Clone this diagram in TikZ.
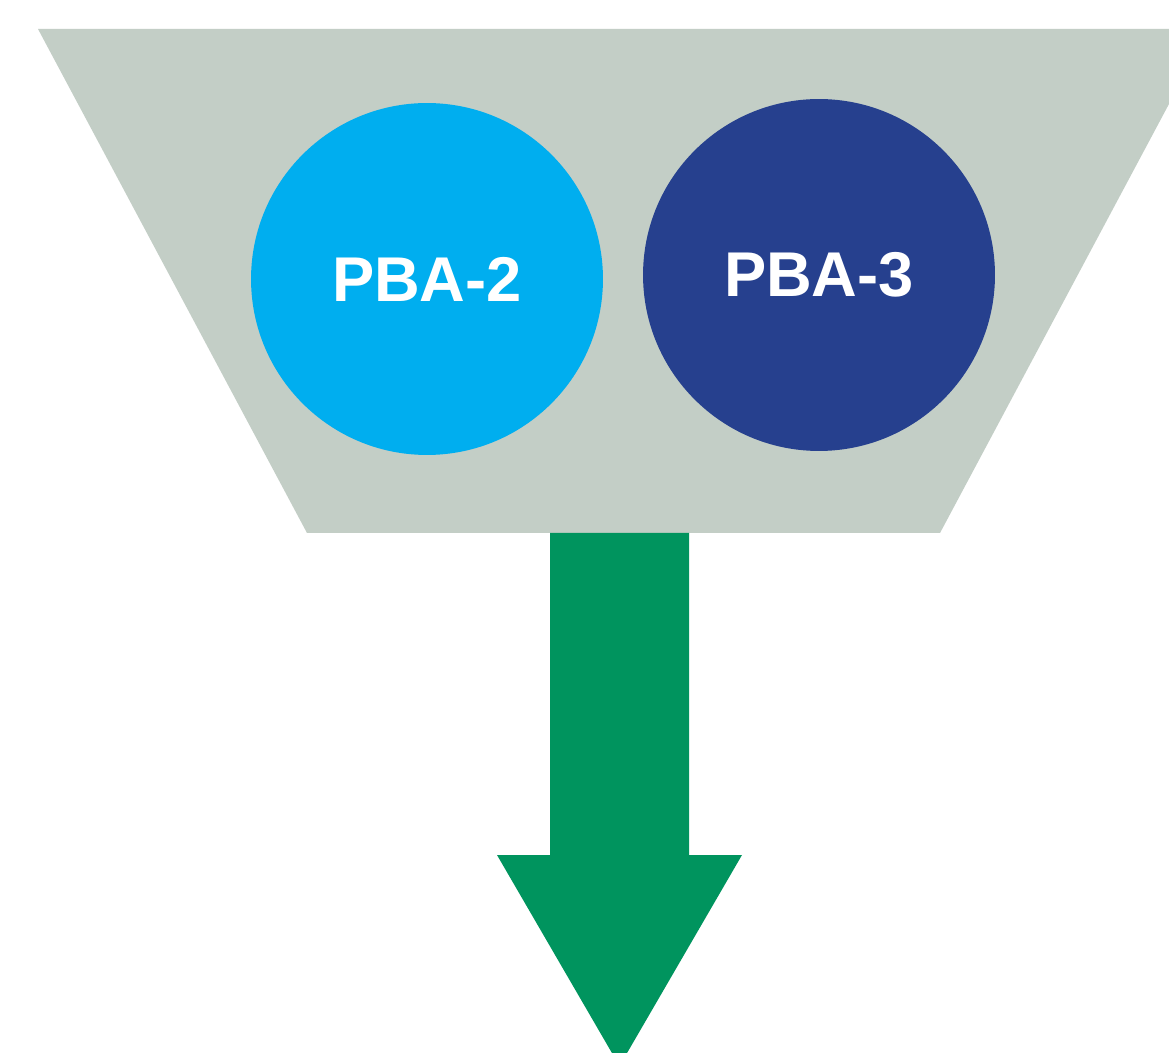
\documentclass[tikz,border=0pt]{standalone}
\usepackage{fontspec}
\setmainfont{Liberation Sans}
\usetikzlibrary{positioning,calc}
\definecolor{funnelgray}{HTML}{C3CEC6}
\definecolor{pbacyan}{HTML}{00AEEF}
\definecolor{pbanavy}{HTML}{26408E}
\definecolor{flowgreen}{HTML}{00945E}
\tikzset{
  funnel/.style={fill=funnelgray,draw=none},
  pbacircle/.style={circle,draw=none,minimum size=7.04cm,inner sep=0pt,
                    text=white,font=\bfseries\fontsize{36}{42}\selectfont},
  bigarrow/.style={fill=flowgreen,draw=none}
}

\begin{document}
\begin{tikzpicture}[x=0.02cm,y=-0.02cm]
    \path[use as bounding box,fill=white] (0,0) rectangle (1169,1053);
    % funnel
    \coordinate (ftl) at (38,29);
    \coordinate (ftr) at (1209,29);
    \coordinate (fbr) at (940,533);
    \coordinate (fbl) at (307,533);
    \coordinate (fbot) at (619.5,533);
    \fill[funnel] (ftl) -- (ftr) -- (fbr) -- (fbl) -- cycle;
    \node[pbacircle,fill=pbacyan] (pba2) at (427,279) {PBA-2};
    \node[pbacircle,fill=pbanavy] (pba3) at (819,275) {PBA-3};
    % outflow arrow
    \fill[bigarrow] ($(fbot)+(-69.5,0)$) -- ($(fbot)+(69.5,0)$)
      -- ($(fbot)+(69.5,322)$) -- ($(fbot)+(122.5,322)$)
      -- ($(fbot)+(0,533)$) -- ($(fbot)+(-122.5,322)$)
      -- ($(fbot)+(-69.5,322)$) -- cycle;
  \end{tikzpicture}
\end{document}
